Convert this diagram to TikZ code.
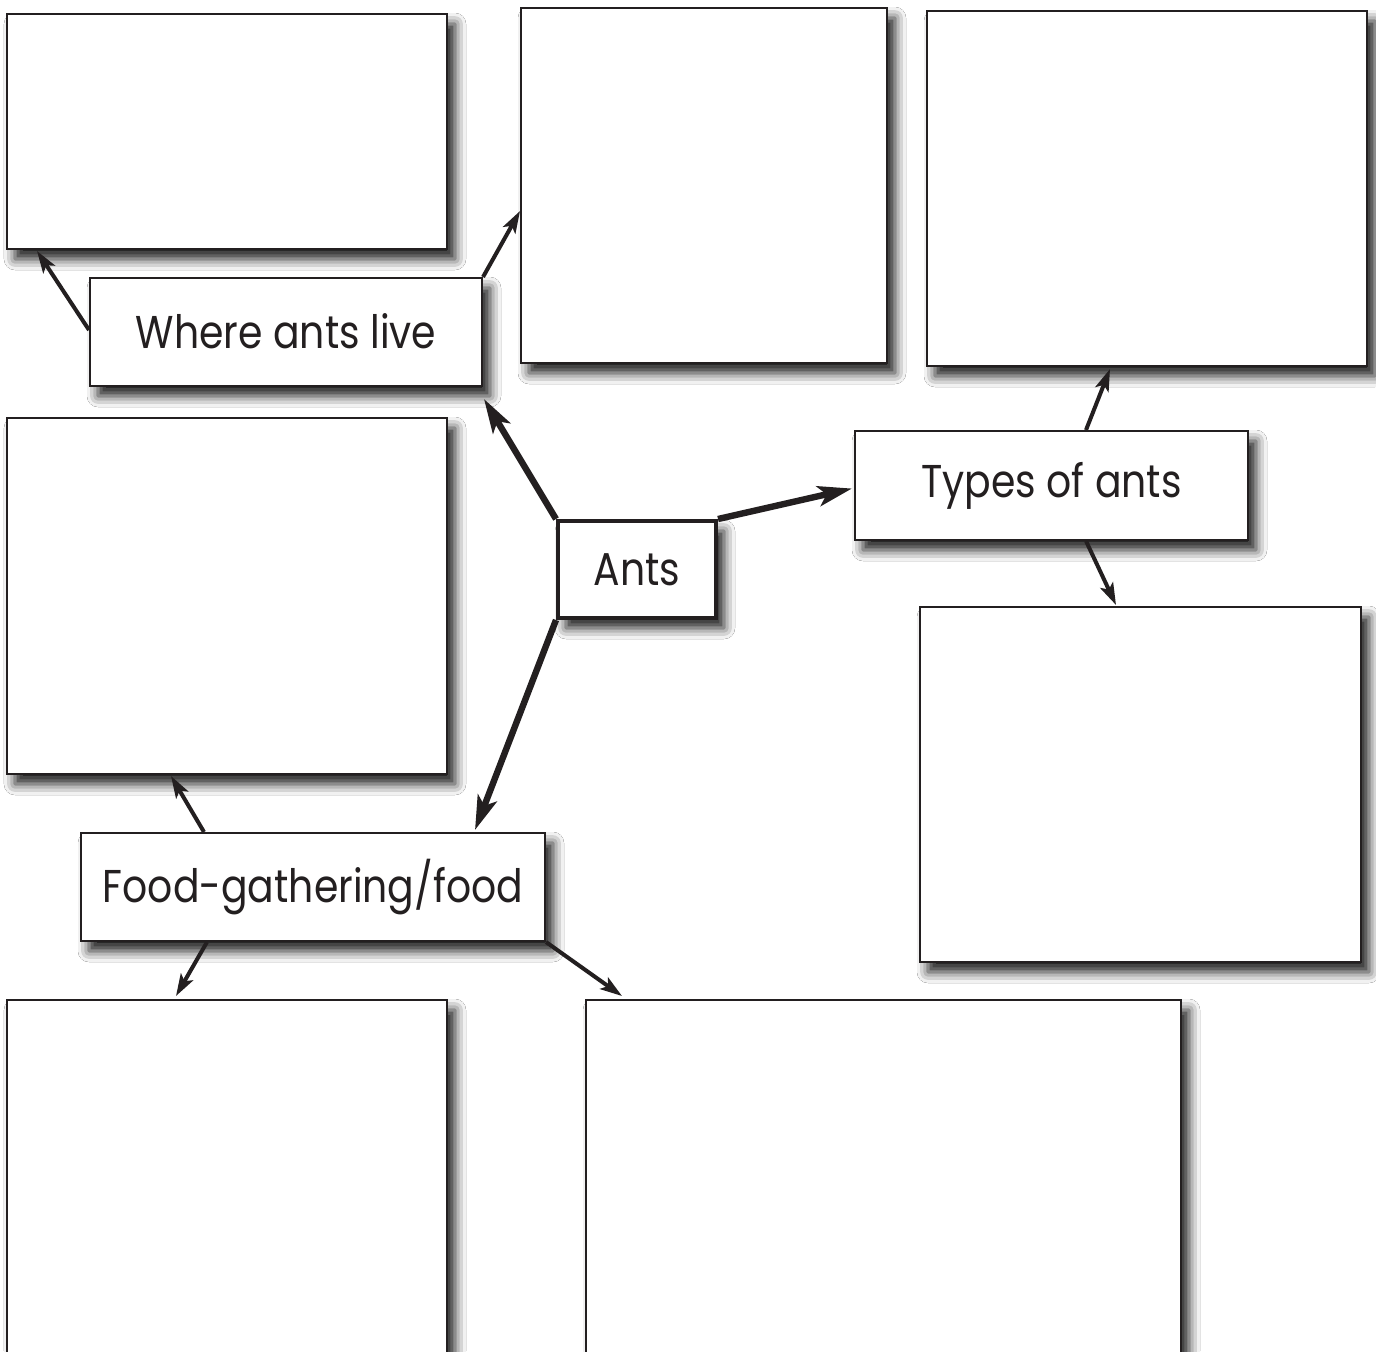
\documentclass[tikz,border=0pt]{standalone}
\usepackage{fontspec}
\setmainfont{Poppins}[FakeStretch=0.855]
\usetikzlibrary{shadows.blur,arrows.meta,calc}
\definecolor{ink}{HTML}{231F20}
\tikzset{
  box/.style={draw=ink, line width=1pt, fill=white, inner sep=0pt,
    blur shadow={shadow xshift=4pt, shadow yshift=-5pt, shadow blur radius=5.5pt, shadow opacity=90}},
  labelbox/.style={box, font=\fontsize{23}{28}\selectfont, text=ink},
  antsbox/.style={labelbox, line width=2pt},
  thinarrow/.style={draw=ink, line width=2pt, -{Stealth[length=11pt,width=7pt,inset=2.5pt]}},
  thickarrow/.style={draw=ink, line width=3.2pt, -{Stealth[length=17pt,width=10pt,inset=4pt]}}
}
\newcommand{\bx}[6][box]{\node[#1, minimum width=#5*0.5pt, minimum height=#6*0.5pt] (#2) at (#3,#4) {};}
\begin{document}
\begin{tikzpicture}[x=0.5pt,y=-0.5pt]
\useasboundingbox (0,0) rectangle (1376,1351);
\fill[white] (0,0) rectangle (1376,1351);
% large empty boxes
\bx{b1}{227}{131.5}{440}{235}
\bx{b2}{704}{185.5}{366}{355}
\bx{b3}{1147}{188.5}{440}{355}
\bx{b4}{227}{596}{440}{356}
\bx{b5}{1140.5}{784.5}{441}{355}
\bx{b6}{227}{1200}{440}{400}
\bx{b7}{883.5}{1200}{595}{400}
% label boxes
\node[labelbox, minimum width=196pt, minimum height=54pt] (where) at (286,332) {\raisebox{1.5pt}{Where ants live}};
\node[labelbox, minimum width=196.5pt, minimum height=54.5pt] (types) at (1051.5,485.5) {\raisebox{1.5pt}{Types of ants}};
\node[labelbox, minimum width=232pt, minimum height=54pt] (food) at (313,887) {\raisebox{1.5pt}{Food-gathering/food}};
\node[antsbox, minimum width=79pt, minimum height=48.5pt] (ants) at (637,569.5) {Ants};
% thick arrows from Ants
\draw[thickarrow] (ants.north west) -- ($(where.south east)+(1,12)$);
\draw[thickarrow] (ants.north east) -- ($(types.west)+(-2,3)$);
\draw[thickarrow] (ants.south west) -- ($(food.north east)+(-71,-2)$);
% thin arrows
\draw[thinarrow] ($(where.west)+(0,-2)$) -- ($(b1.south west)+(31,1)$);
\draw[thinarrow] (where.north east) -- ($(b2.west)+(0,25.5)$);
\draw[thinarrow] ($(types.north west)+(232,0)$) -- ($(b3.south west)+(184,2)$);
\draw[thinarrow] ($(types.south west)+(232,0)$) -- ($(b5.north west)+(197,-1)$);
\draw[thinarrow] ($(food.north west)+(124,0)$) -- ($(b4.south west)+(165,1)$);
\draw[thinarrow] ($(food.south west)+(127,0)$) -- ($(b6.north west)+(170,-3)$);
\draw[thinarrow] (food.south east) -- ($(b7.north west)+(37,-3)$);
\end{tikzpicture}
\end{document}
